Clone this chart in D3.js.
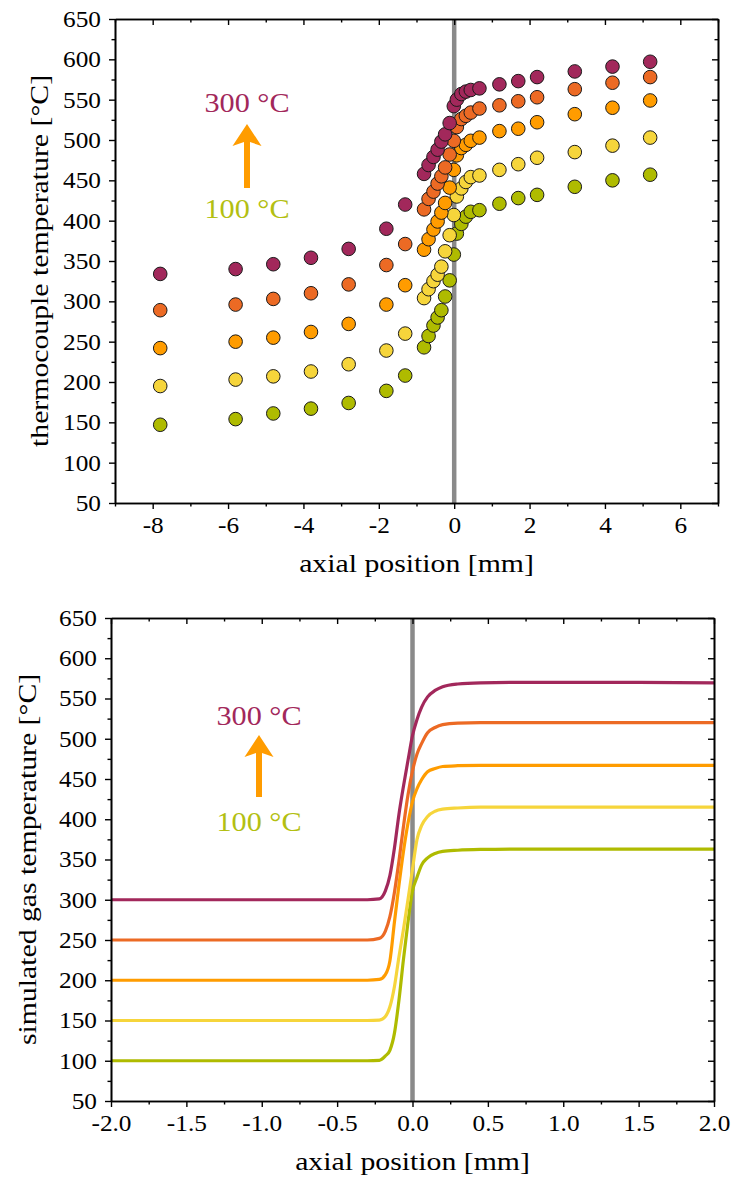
<!DOCTYPE html>
<html>
<head>
<meta charset="utf-8">
<script src="https://cdn.jsdelivr.net/npm/d3@7"></script>
<style>
  body { margin: 0; background: #fff; }
  svg text { font-family: "Liberation Serif", "DejaVu Serif", serif; }
</style>
</head>
<body>
<svg id="fig" width="733" height="1177"></svg>
<script>
// ---- Thermocouple measurements (top panel) ----
const tcX = [-7.8, -5.8, -4.8, -3.8, -2.8, -1.8, -1.3, -0.8, -0.68, -0.55, -0.44, -0.34, -0.24, -0.12,
             -0.01, 0.07, 0.19, 0.31, 0.44, 0.67, 1.2, 1.7, 2.2, 3.2, 4.2, 5.2];
const tc100 = [147, 154, 161, 167, 174, 189, 208, 243, 257, 270, 280, 289, 306, 326,
               358, 384, 396, 405, 411, 413, 421, 428, 432, 442, 450, 457];
const tc150 = [195, 203, 207, 213, 222, 239, 260, 304, 315, 325, 333, 343, 362, 382,
               407, 430, 440, 448, 454, 456, 463, 470, 478, 485, 493, 503];
const tc200 = [242, 250, 255, 262, 272, 296, 320, 364, 377, 389, 399, 410, 422, 441,
               463, 481, 490, 494, 499, 503, 511, 514, 522, 532, 540, 549];
const tc250 = [289, 296, 303, 310, 321, 345, 371, 414, 427, 436, 446, 455, 466, 482,
               499, 516, 526, 530, 534, 539, 543, 548, 553, 563, 571, 578];
const tc300 = [334, 340, 346, 354, 365, 390, 420, 458, 469, 479, 488, 498, 507, 521,
               542, 550, 557, 560, 562, 564, 569, 573, 578, 585, 591, 597];

// ---- Simulated gas temperature (bottom panel) ----
const simX = [-2.0, -1.0, -0.5, -0.3, -0.22, -0.18, -0.15, -0.12, -0.09, -0.06, -0.03, 0.0,
              0.03, 0.06, 0.1, 0.15, 0.2, 0.3, 0.45, 0.7, 1.0, 1.5, 2.0];
const sim100 = [100, 100, 100, 100, 100.5, 106, 113, 134, 175, 226, 272, 311,
                328, 343, 352, 357.5, 360, 361.5, 362.5, 363, 363, 363, 363];
const sim150 = [150, 150, 150, 150, 150.5, 155, 167, 192, 229, 263, 300, 338,
                375, 392, 403.5, 410, 412.5, 414, 415, 415, 415, 415, 415];
const sim200 = [200, 200, 200, 200, 201, 207, 224, 272, 318, 360, 395, 422,
                438, 449, 459, 463, 465.5, 466.5, 467, 467, 467, 467, 467];
const sim250 = [250, 250, 250, 250, 252, 261, 279, 309, 348, 391, 430, 460,
                481, 494, 507.5, 514, 517.5, 519.5, 520, 520, 520, 520, 520];
const sim300 = [300, 300, 300, 300, 301, 311, 330, 364, 406, 441, 473, 504,
                524, 539, 552, 560, 564.5, 568, 569.5, 570, 570, 570, 569.5];

// ---- Series set points, colours and tick values ----
const setPoints = ["100 °C", "150 °C", "200 °C", "250 °C", "300 °C"];
const seriesColors = ["#afbb00", "#f6d53b", "#ff9c00", "#ec6a24", "#a2285b"];
const tempTicks = [50, 100, 150, 200, 250, 300, 350, 400, 450, 500, 550, 600, 650];
const tempMinor = [75, 125, 175, 225, 275, 325, 375, 425, 475, 525, 575, 625];
const topXTicks = [-8, -6, -4, -2, 0, 2, 4, 6];
const topXMinor = [-9, -7, -5, -3, -1, 1, 3, 5, 7];
const botXTicks = [-2.0, -1.5, -1.0, -0.5, 0.0, 0.5, 1.0, 1.5, 2.0];
const botXMinor = [-1.75, -1.25, -0.75, -0.25, 0.25, 0.75, 1.25, 1.75];

const tcSeries = [tc100, tc150, tc200, tc250, tc300];
const simSeries = [sim100, sim150, sim200, sim250, sim300];

const svg = d3.select("#fig");
const FONT = '"Liberation Serif", "DejaVu Serif", serif';

// plain hyphen for negative numbers, as in the printed figure
const fmtInt = v => String(v);
const fmtOne = v => v.toFixed(1);

// widen serif text a little so its set width resembles TeX's Computer Modern
function widen(sel, factor) {
  sel.each(function () {
    const len = this.getComputedTextLength();
    if (len > 0) {
      d3.select(this).attr("textLength", len * factor).attr("lengthAdjust", "spacingAndGlyphs");
    }
  });
}

function styleAxis(g) {
  g.attr("font-family", FONT).attr("font-size", 23);
  g.selectAll("path.domain").attr("stroke", "#000").attr("stroke-width", 1.6);
  g.selectAll(".tick line").attr("stroke", "#000").attr("stroke-width", 1.4);
  g.selectAll(".tick text").attr("fill", "#000");
  widen(g.selectAll(".tick text"), 1.1);
}

function drawFrame(x, y, box, xMajor, xMinor, xFmt) {
  const g = svg.append("g");
  // bottom axis: ticks outward, labelled
  g.append("g").attr("transform", `translate(0,${box.bottom})`)
    .call(d3.axisBottom(x).tickValues(xMajor).tickFormat(xFmt).tickSize(6).tickSizeOuter(0).tickPadding(8))
    .call(styleAxis);
  g.append("g").attr("transform", `translate(0,${box.bottom})`)
    .call(d3.axisBottom(x).tickValues(xMinor).tickFormat("").tickSize(3.5).tickSizeOuter(0))
    .call(styleAxis);
  // top axis: ticks inward
  g.append("g").attr("transform", `translate(0,${box.top})`)
    .call(d3.axisTop(x).tickValues(xMajor).tickFormat("").tickSize(-6).tickSizeOuter(0))
    .call(styleAxis);
  g.append("g").attr("transform", `translate(0,${box.top})`)
    .call(d3.axisTop(x).tickValues(xMinor).tickFormat("").tickSize(-3.5).tickSizeOuter(0))
    .call(styleAxis);
  // left axis: ticks outward, labelled
  g.append("g").attr("transform", `translate(${box.left},0)`)
    .call(d3.axisLeft(y).tickValues(tempTicks).tickFormat(fmtInt).tickSize(6).tickSizeOuter(0).tickPadding(8))
    .call(styleAxis);
  g.append("g").attr("transform", `translate(${box.left},0)`)
    .call(d3.axisLeft(y).tickValues(tempMinor).tickFormat("").tickSize(3.5).tickSizeOuter(0))
    .call(styleAxis);
  // right axis: ticks inward
  g.append("g").attr("transform", `translate(${box.right},0)`)
    .call(d3.axisRight(y).tickValues(tempTicks).tickFormat("").tickSize(-6).tickSizeOuter(0))
    .call(styleAxis);
  g.append("g").attr("transform", `translate(${box.right},0)`)
    .call(d3.axisRight(y).tickValues(tempMinor).tickFormat("").tickSize(-3.5).tickSizeOuter(0))
    .call(styleAxis);
}

function drawZeroLine(x, y) {
  svg.append("line")
    .attr("x1", x(0)).attr("x2", x(0))
    .attr("y1", y(50)).attr("y2", y(650))
    .attr("stroke", "#8a8a8a").attr("stroke-width", 4.5);
}

function drawTitles(box, xTitle, xTitleY, yTitle, yTitleX) {
  const xt = svg.append("text")
    .attr("x", (box.left + box.right) / 2).attr("y", xTitleY)
    .attr("text-anchor", "middle").attr("font-size", 25).attr("fill", "#000")
    .text(xTitle);
  const yt = svg.append("text")
    .attr("transform", `translate(${yTitleX},${(box.top + box.bottom) / 2}) rotate(-90)`)
    .attr("text-anchor", "middle").attr("font-size", 25).attr("fill", "#000")
    .text(yTitle);
  widen(xt, 1.19);
  widen(yt, 1.19);
}

function drawKey(cx, topTextY, tipY, baseY, bottomTextY) {
  const a = svg.append("text").attr("x", cx).attr("y", topTextY).attr("text-anchor", "middle")
    .attr("font-size", 27).attr("fill", seriesColors[4]).text(setPoints[4]);
  const b = svg.append("text").attr("x", cx).attr("y", bottomTextY).attr("text-anchor", "middle")
    .attr("font-size", 27).attr("fill", "#b3bf12").text(setPoints[0]);
  widen(a, 1.12);
  widen(b, 1.12);
  const headLen = 22, headHalf = 14.5, shaft = 3;
  svg.append("path")
    .attr("d", `M${cx},${tipY} L${cx + headHalf},${tipY + headLen} L${cx + shaft},${tipY + headLen - 4}
                L${cx + shaft},${baseY} L${cx - shaft},${baseY} L${cx - shaft},${tipY + headLen - 4}
                L${cx - headHalf},${tipY + headLen} Z`)
    .attr("fill", "#ff9c00");
}

// ---------------- Top panel ----------------
{
  const box = { left: 115, right: 718, top: 19, bottom: 503 };
  const x = d3.scaleLinear().domain([-9, 7]).range([box.left, box.right]);
  const y = d3.scaleLinear().domain([50, 650]).range([box.bottom, box.top]);

  drawZeroLine(x, y);

  tcSeries.forEach((vals, i) => {
    svg.append("g").selectAll("circle")
      .data(tcX.map((xv, k) => [xv, vals[k]]))
      .join("circle")
      .attr("cx", d => x(d[0])).attr("cy", d => y(d[1]))
      .attr("r", 6.8)
      .attr("fill", seriesColors[i])
      .attr("stroke", "#1a1a1a").attr("stroke-width", 1);
  });

  drawFrame(x, y, box, topXTicks, topXMinor, fmtInt);
  drawTitles(box, "axial position [mm]", 572, "thermocouple temperature [°C]", 48);
  drawKey(247, 112, 124, 188, 218);
}

// ---------------- Bottom panel ----------------
{
  const box = { left: 111, right: 714, top: 618, bottom: 1101 };
  const x = d3.scaleLinear().domain([-2, 2]).range([box.left, box.right]);
  const y = d3.scaleLinear().domain([50, 650]).range([box.bottom, box.top]);

  drawZeroLine(x, y);

  const line = d3.line()
    .x((d, k) => x(simX[k]))
    .y(d => y(d))
    .curve(d3.curveMonotoneX);

  simSeries.forEach((vals, i) => {
    svg.append("path")
      .attr("d", line(vals))
      .attr("fill", "none")
      .attr("stroke", seriesColors[i])
      .attr("stroke-width", 3.2)
      .attr("stroke-linejoin", "round");
  });

  drawFrame(x, y, box, botXTicks, botXMinor, fmtOne);
  drawTitles(box, "axial position [mm]", 1170, "simulated gas temperature [°C]", 36);
  drawKey(259, 725, 735, 797, 831);
}
</script>
</body>
</html>
